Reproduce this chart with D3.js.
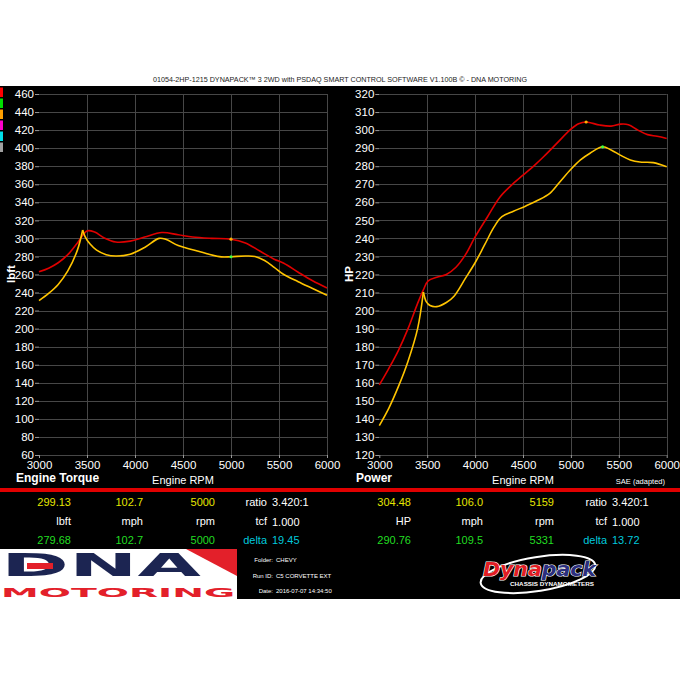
<!DOCTYPE html>
<html><head><meta charset="utf-8">
<script src="https://cdn.jsdelivr.net/npm/d3@7"></script>
<style>body{margin:0;background:#fff}svg{display:block}</style>
</head><body><svg id="c" width="680" height="680"></svg>
<script>
// ---------- DATA ----------
const titleText = "01054-2HP-1215 DYNAPACK\u2122 3 2WD with PSDAQ SMART CONTROL SOFTWARE V1.100B \u00A9 - DNA MOTORING";
const rpmTicks = [3000, 3500, 4000, 4500, 5000, 5500, 6000];
const torqueTicks = [60, 80, 100, 120, 140, 160, 180, 200, 220, 240, 260, 280, 300, 320, 340, 360, 380, 400, 420, 440, 460];
const powerTicks = [120, 130, 140, 150, 160, 170, 180, 190, 200, 210, 220, 230, 240, 250, 260, 270, 280, 290, 300, 310, 320];

// Torque, run 1 (red)
const torqueRedRpm = [3000, 3100, 3200, 3300, 3400, 3500, 3580, 3680, 3800, 3950, 4100, 4280, 4450, 4600, 4800, 5000, 5150, 5300, 5450, 5550, 5700, 5850, 6000];
const torqueRedVal = [263, 267, 273, 282, 295, 308.3, 307, 300.5, 296, 297, 301.5, 306.5, 304, 301.5, 300, 299.13, 295, 286, 277, 272.5, 262.5, 253, 245];
// Torque, run 2 (yellow) — cusp at index 5
const torqueYelRpm = [3000, 3100, 3200, 3300, 3400, 3455, 3480, 3530, 3600, 3700, 3800, 3950, 4100, 4250, 4320, 4450, 4600, 4750, 4900, 5000, 5150, 5250, 5350, 5450, 5550, 5700, 5850, 6000];
const torqueYelVal = [231, 239, 249, 264, 287, 309.3, 302, 294, 287, 282, 280.5, 282.5, 290, 300, 299, 292, 287.5, 283, 279.5, 279.68, 280.5, 280, 275.5, 268, 260, 252, 244.5, 237];
const torqueYelCusp = 5;

// Power, run 1 (red)
const powerRedRpm = [3000, 3100, 3200, 3300, 3400, 3460, 3510, 3600, 3700, 3800, 3900, 4000, 4130, 4260, 4380, 4500, 4620, 4720, 4850, 5000, 5080, 5159, 5300, 5420, 5520, 5600, 5700, 5800, 5900, 6000];
const powerRedVal = [158.8, 168, 178, 190, 204, 211.5, 216.5, 218.5, 220, 224, 231, 240.8, 252, 263, 269.5, 275, 280.5, 285.5, 292.5, 300.5, 303.5, 304.48, 302.8, 302.2, 303.3, 303, 300, 297.5, 296.6, 295.4];
// Power, run 2 (yellow) — cusp at index 5
const powerYelRpm = [3000, 3100, 3200, 3300, 3400, 3460, 3490, 3530, 3600, 3700, 3780, 3900, 4000, 4100, 4200, 4280, 4400, 4530, 4650, 4780, 4880, 5000, 5100, 5200, 5331, 5420, 5520, 5620, 5720, 5860, 6000];
const powerYelVal = [136.3, 146, 158, 172, 190, 210.3, 205, 202.8, 202.2, 204.5, 208, 218, 226.5, 236.5, 246.5, 252, 255, 258, 261, 265, 271, 278.3, 283.5, 287.2, 290.76, 289, 286, 283.5, 282.3, 282, 279.7];
const powerYelCusp = 5;

// Readouts
const torqueRow1 = ["299.13", "102.7", "5000"];
const torqueUnits = ["lbft", "mph", "rpm"];
const torqueRow3 = ["279.68", "102.7", "5000"];
const powerRow1 = ["304.48", "106.0", "5159"];
const powerUnits = ["HP", "mph", "rpm"];
const powerRow3 = ["290.76", "109.5", "5331"];
const sideLabels = ["ratio", "tcf", "delta"];
const torqueSide = ["3.420:1", "1.000", "19.45"];
const powerSide = ["3.420:1", "1.000", "13.72"];
const legendColors = ["#ff0000", "#00e000", "#ffa000", "#ff00cc", "#00e0e8", "#a0a0a0"];
const infoLabels = ["Folder:", "Run ID:", "Date:"];
const infoValues = ["CHEVY", "C5 CORVETTE EXT", "2016-07-07 14:34:50"];

// ---------- DRAW ----------
const FONT = "'Liberation Sans', Arial, sans-serif";
const RED = "#e00000", YEL = "#ffc400", GRID = "#474747";
const svg = d3.select("#c").style("font-family", FONT);

svg.append("rect").attr("x", 0).attr("y", 0).attr("width", 680).attr("height", 680).attr("fill", "#fff");
svg.append("rect").attr("x", 0).attr("y", 86).attr("width", 680).attr("height", 513).attr("fill", "#000");

svg.append("text").attr("x", 340).attr("y", 82).attr("text-anchor", "middle")
  .attr("font-size", 7.4).attr("fill", "#222").attr("textLength", 374).attr("lengthAdjust", "spacingAndGlyphs")
  .text(titleText);

// legend color swatches
svg.selectAll("rect.leg").data(legendColors).join("rect").attr("class", "leg")
  .attr("x", 0).attr("width", 3).attr("y", (d, i) => 87.5 + i * 11).attr("height", 9.5).attr("fill", d => d);

function chart(cfg) {
  const x = d3.scaleLinear().domain([3000, 6000]).range(cfg.xr);
  const y = d3.scaleLinear().domain(cfg.yd).range([455, 94]);
  const g = svg.append("g");
  // grid
  g.selectAll("line.h").data(cfg.yTicks).join("line")
    .attr("x1", cfg.xr[0]).attr("x2", cfg.xr[1]).attr("y1", d => Math.round(y(d)) + 0.5).attr("y2", d => Math.round(y(d)) + 0.5)
    .attr("stroke", GRID).attr("stroke-width", 1);
  g.selectAll("line.v").data(rpmTicks.slice(1)).join("line")
    .attr("y1", 94).attr("y2", 455).attr("x1", d => Math.round(x(d)) + 0.5).attr("x2", d => Math.round(x(d)) + 0.5)
    .attr("stroke", GRID).attr("stroke-width", 1);
  // axes
  const ya = g.append("g").attr("transform", `translate(${cfg.xr[0]},0)`)
    .call(d3.axisLeft(y).tickValues(cfg.yTicks).tickSize(4).tickPadding(1).tickFormat(d3.format("d")));
  const xa = g.append("g").attr("transform", `translate(0,455)`)
    .call(d3.axisBottom(x).tickValues(rpmTicks).tickSize(3).tickPadding(3).tickFormat(d3.format("d")));
  [ya, xa].forEach(a => {
    a.select(".domain").remove();
    a.selectAll("line").attr("stroke", "#9a9a9a");
    a.selectAll("text").attr("fill", "#fff").attr("font-size", 11.5).attr("font-family", FONT);
  });
  // lines
  const line = d3.line().x(d => x(d[0])).y(d => y(d[1])).curve(d3.curveCatmullRom.alpha(0.5));
  function drawSeries(rpms, vals, color, cusp) {
    const pts = rpms.map((r, i) => [r, vals[i]]);
    const segs = cusp == null ? [pts] : [pts.slice(0, cusp + 1), pts.slice(cusp)];
    segs.forEach(s => g.append("path").attr("d", line(s)).attr("fill", "none")
      .attr("stroke", color).attr("stroke-width", 1.6).attr("stroke-linejoin", "round"));
  }
  drawSeries(cfg.redRpm, cfg.redVal, RED, null);
  drawSeries(cfg.yelRpm, cfg.yelVal, YEL, cfg.yelCusp);
  // markers
  g.append("circle").attr("cx", x(+cfg.row1[2])).attr("cy", y(+cfg.row1[0])).attr("r", 1.6).attr("fill", "#ffb000");
  g.append("circle").attr("cx", x(+cfg.row3[2])).attr("cy", y(+cfg.row3[0])).attr("r", 1.6).attr("fill", "#40ff40");
  // titles
  g.append("text").attr("transform", `translate(${cfg.yLabelX},274) rotate(-90)`).attr("text-anchor", "middle")
    .attr("fill", "#fff").attr("font-size", 11.5).attr("font-weight", "bold").text(cfg.yLabel);
  g.append("text").attr("x", cfg.nameX).attr("y", 482).attr("fill", "#fff").attr("font-size", 12)
    .attr("font-weight", "bold").text(cfg.name);
  g.append("text").attr("x", (cfg.xr[0] + cfg.xr[1]) / 2).attr("y", 484).attr("text-anchor", "middle")
    .attr("fill", "#fff").attr("font-size", 11).text("Engine RPM");
  // readouts
  const rowsY = [505.5, 524.5, 543.5];
  const colors = ["#e6e600", "#ffffff", "#22dd22"];
  [cfg.row1, cfg.units, cfg.row3].forEach((row, ri) => {
    row.forEach((t, ci) => {
      g.append("text").attr("x", cfg.colX[ci]).attr("y", rowsY[ri]).attr("text-anchor", "end")
        .attr("fill", colors[ri]).attr("font-size", 11).text(t);
    });
    const sc = ri === 2 ? "#00c8dc" : "#fff";
    g.append("text").attr("x", cfg.colX[3]).attr("y", rowsY[ri]).attr("text-anchor", "end")
      .attr("fill", sc).attr("font-size", 11).text(sideLabels[ri]);
    g.append("text").attr("x", cfg.colX[3] + 5).attr("y", rowsY[ri] + (ri === 1 ? 1 : 0))
      .attr("fill", sc).attr("font-size", 11).text(cfg.side[ri]);
  });
}

chart({
  xr: [39, 327], yd: [60, 460], yTicks: torqueTicks,
  redRpm: torqueRedRpm, redVal: torqueRedVal, yelRpm: torqueYelRpm, yelVal: torqueYelVal, yelCusp: torqueYelCusp,
  row1: torqueRow1, units: torqueUnits, row3: torqueRow3, side: torqueSide,
  yLabel: "lbft", yLabelX: 15, name: "Engine Torque", nameX: 16, colX: [71, 143, 215, 267]
});
chart({
  xr: [379.3, 666.7], yd: [120, 320], yTicks: powerTicks,
  redRpm: powerRedRpm, redVal: powerRedVal, yelRpm: powerYelRpm, yelVal: powerYelVal, yelCusp: powerYelCusp,
  row1: powerRow1, units: powerUnits, row3: powerRow3, side: powerSide,
  yLabel: "HP", yLabelX: 353, name: "Power", nameX: 356, colX: [411, 483, 554, 607]
});

svg.append("text").attr("x", 665).attr("y", 484).attr("text-anchor", "end").attr("fill", "#fff")
  .attr("font-size", 7.5).text("SAE (adapted)");

// red separator
svg.append("rect").attr("x", 0).attr("y", 488).attr("width", 680).attr("height", 4).attr("fill", RED);

// DNA Motoring logo
const logo = svg.append("g");
logo.append("rect").attr("x", 0).attr("y", 549).attr("width", 237).attr("height", 50).attr("fill", "#fff");
logo.append("polygon").attr("points", "186,549 237,549 237,576").attr("fill", "#e3202a");
logo.append("text").attr("x", 1).attr("y", 576).attr("font-family", "'DejaVu Sans', sans-serif").attr("font-weight", "bold")
  .attr("font-size", 32).attr("fill", "#1c2552").attr("textLength", 200).attr("lengthAdjust", "spacingAndGlyphs").text("DNA");
logo.append("rect").attr("x", 27).attr("y", 563).attr("width", 26).attr("height", 6).attr("fill", "#e3202a");
logo.append("text").attr("x", 1).attr("y", 597).attr("font-family", "'DejaVu Sans', sans-serif").attr("font-weight", "bold")
  .attr("font-size", 13).attr("fill", "#e3202a").attr("textLength", 234).attr("lengthAdjust", "spacingAndGlyphs").text("MOTORING");

// run info
infoLabels.forEach((t, i) => {
  svg.append("text").attr("x", 273).attr("y", 562 + i * 15.5).attr("text-anchor", "end").attr("fill", "#fff")
    .attr("font-size", 6).text(t);
  svg.append("text").attr("x", 276).attr("y", 562 + i * 15.5).attr("fill", "#fff").attr("font-size", 6).text(infoValues[i]);
});

// Dynapack logo
const dp = svg.append("g");
dp.append("ellipse").attr("cx", 538).attr("cy", 574).attr("rx", 58).attr("ry", 17)
  .attr("transform", "rotate(-9 538 574)").attr("fill", "none").attr("stroke", "#fff").attr("stroke-width", 2);
const dt = dp.append("text").attr("x", 483).attr("y", 576).attr("font-family", "'DejaVu Sans', sans-serif")
  .attr("font-weight", "bold").attr("font-style", "italic").attr("font-size", 19)
  .attr("textLength", 113).attr("lengthAdjust", "spacingAndGlyphs")
  .attr("stroke", "#fff").attr("stroke-width", 1.2).attr("paint-order", "stroke");
dt.append("tspan").attr("fill", "#e21d24").text("Dyna");
dt.append("tspan").attr("fill", "#2b2f7e").text("pack");
dp.append("text").attr("x", 510).attr("y", 586).attr("font-size", 4.5).attr("font-weight", "bold").attr("fill", "#fff")
  .attr("textLength", 84).attr("lengthAdjust", "spacingAndGlyphs").text("CHASSIS DYNAMOMETERS");
</script></body></html>
